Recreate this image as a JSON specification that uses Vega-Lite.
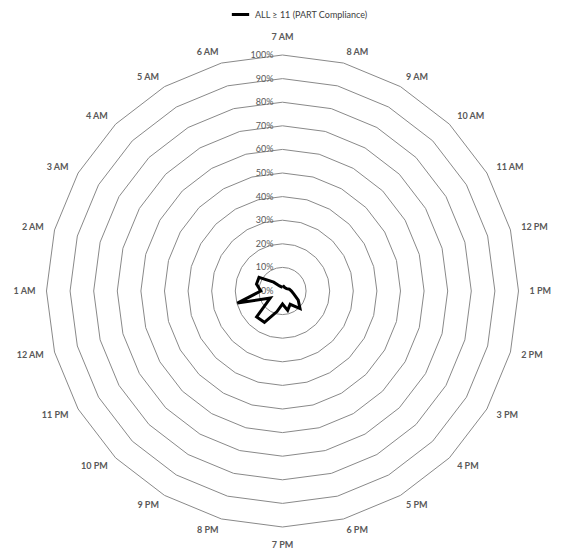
{
  "$schema": "https://vega.github.io/schema/vega-lite/v6.json",
  "width": 566,
  "height": 551,
  "autosize": {"type": "none"},
  "padding": 0,
  "background": "white",
  "config": {"view": {"stroke": null}, "font": "Lato"},
  "datasets": {
    "hours": [
      {"i": 0, "hour": "7 AM", "v": 1.6},
      {"i": 1, "hour": "8 AM", "v": 2},
      {"i": 2, "hour": "9 AM", "v": 1.8},
      {"i": 3, "hour": "10 AM", "v": 1.8},
      {"i": 4, "hour": "11 AM", "v": 2},
      {"i": 5, "hour": "12 PM", "v": 3},
      {"i": 6, "hour": "1 PM", "v": 3.8},
      {"i": 7, "hour": "2 PM", "v": 5},
      {"i": 8, "hour": "3 PM", "v": 7.7},
      {"i": 9, "hour": "4 PM", "v": 10.5},
      {"i": 10, "hour": "5 PM", "v": 6.5},
      {"i": 11, "hour": "6 PM", "v": 8.5},
      {"i": 12, "hour": "7 PM", "v": 5.5},
      {"i": 13, "hour": "8 PM", "v": 9},
      {"i": 14, "hour": "9 PM", "v": 15.3},
      {"i": 15, "hour": "10 PM", "v": 15.5},
      {"i": 16, "hour": "11 PM", "v": 6},
      {"i": 17, "hour": "12 AM", "v": 19.8},
      {"i": 18, "hour": "1 AM", "v": 9.2},
      {"i": 19, "hour": "2 AM", "v": 11.4},
      {"i": 20, "hour": "3 AM", "v": 11.5},
      {"i": 21, "hour": "4 AM", "v": 5.3},
      {"i": 22, "hour": "5 AM", "v": 2.5},
      {"i": 23, "hour": "6 AM", "v": 1.8},
      {"i": 24, "hour": "7 AM", "v": 1.6}
    ],
    "grid": [
      {"level": 10, "i": [0,1,2,3,4,5,6,7,8,9,10,11,12,13,14,15,16,17,18,19,20,21,22,23,24]},
      {"level": 20, "i": [0,1,2,3,4,5,6,7,8,9,10,11,12,13,14,15,16,17,18,19,20,21,22,23,24]},
      {"level": 30, "i": [0,1,2,3,4,5,6,7,8,9,10,11,12,13,14,15,16,17,18,19,20,21,22,23,24]},
      {"level": 40, "i": [0,1,2,3,4,5,6,7,8,9,10,11,12,13,14,15,16,17,18,19,20,21,22,23,24]},
      {"level": 50, "i": [0,1,2,3,4,5,6,7,8,9,10,11,12,13,14,15,16,17,18,19,20,21,22,23,24]},
      {"level": 60, "i": [0,1,2,3,4,5,6,7,8,9,10,11,12,13,14,15,16,17,18,19,20,21,22,23,24]},
      {"level": 70, "i": [0,1,2,3,4,5,6,7,8,9,10,11,12,13,14,15,16,17,18,19,20,21,22,23,24]},
      {"level": 80, "i": [0,1,2,3,4,5,6,7,8,9,10,11,12,13,14,15,16,17,18,19,20,21,22,23,24]},
      {"level": 90, "i": [0,1,2,3,4,5,6,7,8,9,10,11,12,13,14,15,16,17,18,19,20,21,22,23,24]},
      {"level": 100, "i": [0,1,2,3,4,5,6,7,8,9,10,11,12,13,14,15,16,17,18,19,20,21,22,23,24]}
    ],
    "levels": [
      {"level": 0, "label": "0%"},
      {"level": 10, "label": "10%"},
      {"level": 20, "label": "20%"},
      {"level": 30, "label": "30%"},
      {"level": 40, "label": "40%"},
      {"level": 50, "label": "50%"},
      {"level": 60, "label": "60%"},
      {"level": 70, "label": "70%"},
      {"level": 80, "label": "80%"},
      {"level": 90, "label": "90%"},
      {"level": 100, "label": "100%"}
    ]
  },
  "layer": [
    {
      "data": {"name": "grid"},
      "transform": [
        {"flatten": ["i"]},
        {"calculate": "datum.level * sin(datum.i * PI / 12)", "as": "gx"},
        {"calculate": "datum.level * cos(datum.i * PI / 12)", "as": "gy"}
      ],
      "mark": {"type": "line", "stroke": "#898989", "strokeWidth": 1, "interpolate": "linear"},
      "encoding": {
        "x": {"field": "gx", "type": "quantitative", "scale": {"domain": [-119.7, 120.13], "nice": false, "zero": false}, "axis": null},
        "y": {"field": "gy", "type": "quantitative", "scale": {"domain": [-110.17, 123.31], "nice": false, "zero": false}, "axis": null},
        "detail": {"field": "level", "type": "nominal"},
        "order": {"field": "i", "type": "quantitative"}
      }
    },
    {
      "data": {"name": "levels"},
      "mark": {"type": "text", "align": "right", "baseline": "middle", "dx": -9, "fontSize": 9, "color": "#595959", "font": "Lato"},
      "encoding": {
        "x": {"datum": 0, "type": "quantitative", "scale": {"domain": [-119.7, 120.13], "nice": false, "zero": false}},
        "y": {"field": "level", "type": "quantitative", "scale": {"domain": [-110.17, 123.31], "nice": false, "zero": false}},
        "text": {"field": "label"}
      }
    },
    {
      "data": {"name": "hours"},
      "transform": [
        {"filter": "datum.i == 0 || datum.i == 12"},
        {"calculate": "107.6 * sin(datum.i * PI / 12)", "as": "lx"},
        {"calculate": "107.6 * cos(datum.i * PI / 12)", "as": "ly"}
      ],
      "mark": {"type": "text", "align": "center", "baseline": "middle", "fontSize": 9, "fontWeight": "bold", "color": "#595959", "font": "Lato"},
      "encoding": {
        "x": {"field": "lx", "type": "quantitative", "scale": {"domain": [-119.7, 120.13], "nice": false, "zero": false}},
        "y": {"field": "ly", "type": "quantitative", "scale": {"domain": [-110.17, 123.31], "nice": false, "zero": false}},
        "text": {"field": "hour"}
      }
    },
    {
      "data": {"name": "hours"},
      "transform": [
        {"filter": "datum.i > 0 && datum.i < 12"},
        {"calculate": "104.7 * sin(datum.i * PI / 12)", "as": "lx"},
        {"calculate": "104.7 * cos(datum.i * PI / 12)", "as": "ly"}
      ],
      "mark": {"type": "text", "align": "left", "baseline": "middle", "fontSize": 9, "fontWeight": "bold", "color": "#595959", "font": "Lato"},
      "encoding": {
        "x": {"field": "lx", "type": "quantitative", "scale": {"domain": [-119.7, 120.13], "nice": false, "zero": false}},
        "y": {"field": "ly", "type": "quantitative", "scale": {"domain": [-110.17, 123.31], "nice": false, "zero": false}},
        "text": {"field": "hour"}
      }
    },
    {
      "data": {"name": "hours"},
      "transform": [
        {"filter": "datum.i > 12 && datum.i < 24"},
        {"calculate": "104.7 * sin(datum.i * PI / 12)", "as": "lx"},
        {"calculate": "104.7 * cos(datum.i * PI / 12)", "as": "ly"}
      ],
      "mark": {"type": "text", "align": "right", "baseline": "middle", "fontSize": 9, "fontWeight": "bold", "color": "#595959", "font": "Lato"},
      "encoding": {
        "x": {"field": "lx", "type": "quantitative", "scale": {"domain": [-119.7, 120.13], "nice": false, "zero": false}},
        "y": {"field": "ly", "type": "quantitative", "scale": {"domain": [-110.17, 123.31], "nice": false, "zero": false}},
        "text": {"field": "hour"}
      }
    },
    {
      "data": {"name": "hours"},
      "transform": [
        {"calculate": "datum.v * sin(datum.i * PI / 12)", "as": "dx"},
        {"calculate": "datum.v * cos(datum.i * PI / 12)", "as": "dy"},
        {"calculate": "'ALL ≥ 11 (PART Compliance)'", "as": "series"}
      ],
      "mark": {"type": "line", "strokeWidth": 3, "strokeJoin": "miter", "interpolate": "linear"},
      "encoding": {
        "x": {"field": "dx", "type": "quantitative", "scale": {"domain": [-119.7, 120.13], "nice": false, "zero": false}},
        "y": {"field": "dy", "type": "quantitative", "scale": {"domain": [-110.17, 123.31], "nice": false, "zero": false}},
        "order": {"field": "i", "type": "quantitative"},
        "color": {
          "field": "series", "type": "nominal",
          "scale": {"domain": ["ALL ≥ 11 (PART Compliance)"], "range": ["#000000"]},
          "legend": {
            "title": null, "orient": "none", "legendX": 230, "legendY": 4,
            "symbolType": "stroke", "symbolStrokeWidth": 3, "symbolSize": 300,
            "labelFont": "Lato", "labelFontSize": 9, "labelColor": "#404040"
          }
        }
      }
    }
  ]
}
